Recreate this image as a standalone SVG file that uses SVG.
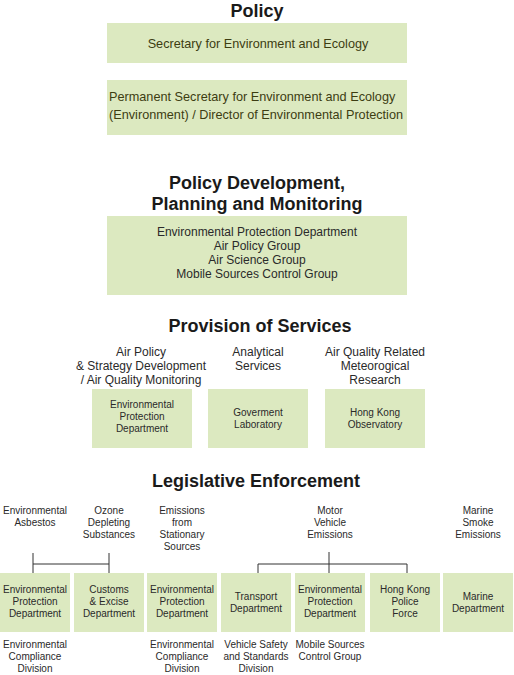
<svg xmlns="http://www.w3.org/2000/svg" width="514" height="675" viewBox="0 0 514 675">
<style>
.bg{fill:#ffffff}
.box{fill:#dce9c0}
.h{font-family:"Liberation Sans",Arial,sans-serif;font-weight:bold;font-size:18px;fill:#1a1a1a;text-anchor:middle}
.t12{font-family:"Liberation Sans",Arial,sans-serif;font-size:12px;fill:#2a2a2a;text-anchor:middle}
.ol{font-family:"Liberation Sans",Arial,sans-serif;font-size:12.7px;fill:#3d3d12}
.t10{font-family:"Liberation Sans",Arial,sans-serif;font-size:10px;fill:#2a2a2a;text-anchor:middle}
.c{stroke:#333333;stroke-width:1;fill:none}
</style>
<rect class="bg" x="0" y="0" width="514" height="675"/>
<text class="h" x="257" y="17">Policy</text>
<g id="n_secretary">
<rect class="box" x="107" y="23" width="300" height="40"/>
<text class="ol" x="258" y="48" text-anchor="middle">Secretary for Environment and Ecology</text>
</g>
<g id="n_permsec">
<rect class="box" x="107" y="80" width="300" height="55"/>
<text class="ol" x="109" y="101">Permanent Secretary for Environment and Ecology</text>
<text class="ol" x="109" y="119">(Environment) / Director of Environmental Protection</text>
</g>
<text class="h" x="257" y="189">Policy Development,</text>
<text class="h" x="257" y="210">Planning and Monitoring</text>
<g id="n_epd_policy">
<rect class="box" x="107" y="216" width="300" height="79"/>
<text class="t12" x="257" y="236">Environmental Protection Department</text>
<text class="t12" x="257" y="250">Air Policy Group</text>
<text class="t12" x="257" y="264">Air Science Group</text>
<text class="t12" x="257" y="278">Mobile Sources Control Group</text>
</g>
<text class="h" x="260" y="332">Provision of Services</text>
<text class="t12" x="141" y="356">Air Policy</text>
<text class="t12" x="141" y="370">&amp; Strategy Development</text>
<text class="t12" x="141" y="384">/ Air Quality Monitoring</text>
<text class="t12" x="258" y="356">Analytical</text>
<text class="t12" x="258" y="370">Services</text>
<text class="t12" x="375" y="356">Air Quality Related</text>
<text class="t12" x="375" y="370">Meteorogical</text>
<text class="t12" x="375" y="384">Research</text>
<g id="n_epd_services">
<rect class="box" x="92" y="389" width="100" height="59"/>
<text class="t10" x="142" y="408">Environmental</text>
<text class="t10" x="142" y="420">Protection</text>
<text class="t10" x="142" y="432">Department</text>
</g>
<g id="n_govlab">
<rect class="box" x="208" y="389" width="100" height="59"/>
<text class="t10" x="258" y="416">Goverment</text>
<text class="t10" x="258" y="428">Laboratory</text>
</g>
<g id="n_hko">
<rect class="box" x="325" y="389" width="100" height="59"/>
<text class="t10" x="375" y="416">Hong Kong</text>
<text class="t10" x="375" y="428">Observatory</text>
</g>
<text class="h" x="256" y="487">Legislative Enforcement</text>
<text class="t10" x="35" y="514">Environmental</text>
<text class="t10" x="35" y="526">Asbestos</text>
<text class="t10" x="109" y="514">Ozone</text>
<text class="t10" x="109" y="526">Depleting</text>
<text class="t10" x="109" y="538">Substances</text>
<text class="t10" x="182" y="514">Emissions</text>
<text class="t10" x="182" y="526">from</text>
<text class="t10" x="182" y="538">Stationary</text>
<text class="t10" x="182" y="550">Sources</text>
<text class="t10" x="330" y="514">Motor</text>
<text class="t10" x="330" y="526">Vehicle</text>
<text class="t10" x="330" y="538">Emissions</text>
<text class="t10" x="478" y="514">Marine</text>
<text class="t10" x="478" y="526">Smoke</text>
<text class="t10" x="478" y="538">Emissions</text>
<g id="connectors">
<path class="c" d="M33,553 V573 M109,553 V573 M33,564 H109"/>
<path class="c" d="M329,552 V573 M258,564 H407 M258,564 V573 M407,564 V573"/>
</g>
<g id="n_epd_asbestos">
<rect class="box" x="0" y="573" width="70" height="59"/>
<text class="t10" x="35" y="593">Environmental</text>
<text class="t10" x="35" y="605">Protection</text>
<text class="t10" x="35" y="617">Department</text>
</g>
<g id="n_customs">
<rect class="box" x="74" y="573" width="70" height="59"/>
<text class="t10" x="109" y="593">Customs</text>
<text class="t10" x="109" y="605">&amp; Excise</text>
<text class="t10" x="109" y="617">Department</text>
</g>
<g id="n_epd_stationary">
<rect class="box" x="147" y="573" width="70" height="59"/>
<text class="t10" x="182" y="593">Environmental</text>
<text class="t10" x="182" y="605">Protection</text>
<text class="t10" x="182" y="617">Department</text>
</g>
<g id="n_transport">
<rect class="box" x="221" y="573" width="70" height="59"/>
<text class="t10" x="256" y="600">Transport</text>
<text class="t10" x="256" y="612">Department</text>
</g>
<g id="n_epd_motor">
<rect class="box" x="295" y="573" width="70" height="59"/>
<text class="t10" x="330" y="593">Environmental</text>
<text class="t10" x="330" y="605">Protection</text>
<text class="t10" x="330" y="617">Department</text>
</g>
<g id="n_police">
<rect class="box" x="370" y="573" width="70" height="59"/>
<text class="t10" x="405" y="593">Hong Kong</text>
<text class="t10" x="405" y="605">Police</text>
<text class="t10" x="405" y="617">Force</text>
</g>
<g id="n_marine">
<rect class="box" x="443" y="573" width="70" height="59"/>
<text class="t10" x="478" y="600">Marine</text>
<text class="t10" x="478" y="612">Department</text>
</g>
<text class="t10" x="35" y="648">Environmental</text>
<text class="t10" x="35" y="660">Compliance</text>
<text class="t10" x="35" y="672">Division</text>
<text class="t10" x="182" y="648">Environmental</text>
<text class="t10" x="182" y="660">Compliance</text>
<text class="t10" x="182" y="672">Division</text>
<text class="t10" x="256" y="648">Vehicle Safety</text>
<text class="t10" x="256" y="660">and Standards</text>
<text class="t10" x="256" y="672">Division</text>
<text class="t10" x="330" y="648">Mobile Sources</text>
<text class="t10" x="330" y="660">Control Group</text>
</svg>
